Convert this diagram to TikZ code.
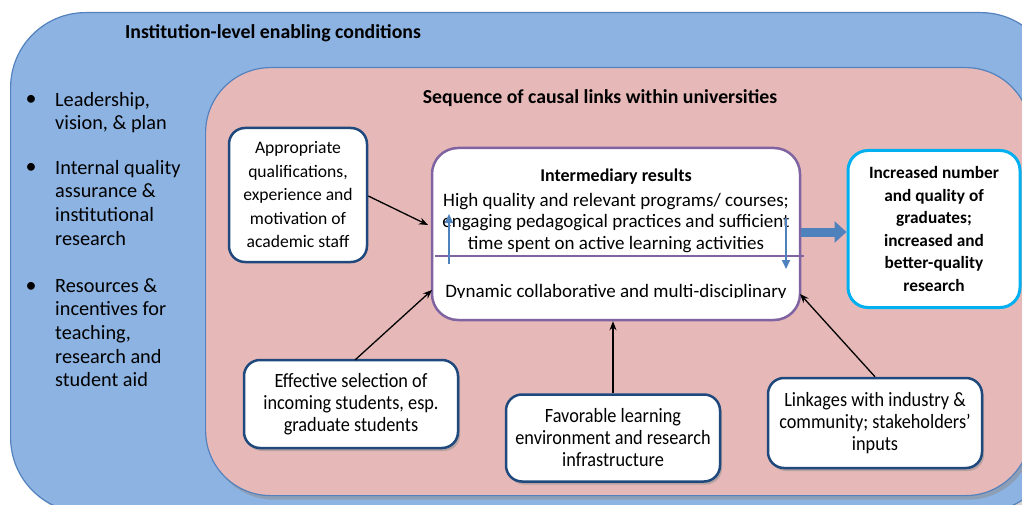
\documentclass[tikz,border=0pt]{standalone}
\usepackage{fontspec}
\setmainfont{Carlito}
\newfontfamily\narrowfont[FakeStretch=0.9]{Carlito}
\usetikzlibrary{arrows.meta,shadows}
\definecolor{outerfill}{RGB}{141,179,226}
\definecolor{outerdraw}{RGB}{84,130,190}
\definecolor{pinkfill}{RGB}{230,185,184}
\definecolor{darkblue}{RGB}{31,73,125}
\definecolor{purpleb}{RGB}{128,100,162}
\definecolor{cyanb}{RGB}{0,176,240}
\definecolor{arrowblue}{RGB}{79,129,189}
\tikzset{
  txt/.style={font=\fontsize{19}{21.6}\selectfont, align=center, inner sep=0pt},
  lst/.style={font=\fontsize{20.3}{23.7}\selectfont, align=left, anchor=north west, inner sep=0pt},
  bul/.style={font=\fontsize{22}{22}\selectfont, anchor=base, inner sep=0pt},
  staffbox/.style={draw=darkblue, line width=2.5pt, fill=white, rounded corners=16pt, align=center, font=\fontsize{17.6}{23.5}\selectfont, inner sep=2pt},
  lowbox/.style={staffbox, drop shadow={shadow xshift=2pt, shadow yshift=-3pt, fill=black!45}, font=\narrowfont\fontsize{20.3}{22}\selectfont},
  centrebox/.style={draw=purpleb, line width=2.5pt, fill=white, rounded corners=26pt},
  outbox/.style={draw=cyanb, line width=3pt, fill=white, rounded corners=20pt, align=center, font=\bfseries\fontsize{17.3}{22.5}\selectfont},
  blk/.style={-{Stealth[length=9pt,width=7pt]}, line width=1.3pt, black},
  smallblue/.style={-{Triangle[length=9pt,width=8pt]}, line width=2pt, arrowblue},
  bigblue/.style={-{Triangle[length=12pt,width=21pt]}, line width=9pt, arrowblue},
  ttl/.style={font=\bfseries\fontsize{19.8}{22}\selectfont},
}
\begin{document}
\begin{tikzpicture}[x=1pt,y=-1pt]
\clip (0,0) rectangle (1022,505);
\fill[white] (0,0) rectangle (1022,505);
% outer blue area
\node[draw=outerdraw, line width=1.2pt, fill=outerfill, rounded corners=75pt,
  minimum width=1045pt, minimum height=500pt, anchor=north west,
  drop shadow={shadow xshift=3pt, shadow yshift=-3pt, fill=black!35}] (outer) at (10,12) {};
\node[ttl] (outertitle) at (273,33) {Institution-level enabling conditions};
% list
\node[bul] (b1) at (31,106) {•};
\node[lst] (l1) at (55,89.4) {\strut Leadership,\\vision, \& plan};
\node[bul] (b2) at (31,174) {•};
\node[lst] (l2) at (55,157.4) {\strut Internal quality\\assurance \&\\institutional\\research};
\node[bul] (b3) at (31,292) {•};
\node[lst] (l3) at (55,275.4) {\strut Resources \&\\incentives for\\teaching,\\research and\\student aid};
% pink area
\node[draw=outerdraw, line width=1.2pt, fill=pinkfill, rounded corners=65pt,
  minimum width=825pt, minimum height=428pt, anchor=north west,
  drop shadow={shadow xshift=3pt, shadow yshift=-4pt, fill=black!45}] (pink) at (205,67) {};
\node[ttl] (pinktitle) at (600,98) {Sequence of causal links within universities};
% boxes
\node[staffbox, minimum width=138pt, minimum height=134pt] (staff) at (298,195)
  {Appropriate\\qualifications,\\experience and\\motivation of\\academic staff};
\node[centrebox, minimum width=368pt, minimum height=172pt] (centre) at (616,234) {};
\node[txt, font=\bfseries\fontsize{18}{22}\selectfont] (ir) at (616,177) {Intermediary results};
\node[txt, anchor=north] (irtext) at (616,190.9) {\strut High quality and relevant programs/ courses;\\engaging pedagogical practices and sufficient\\time spent on active learning activities};
\begin{scope}
\clip (436,272) rectangle (800,297);
\node[txt, anchor=base] (dyn) at (616,297) {Dynamic collaborative and multi-disciplinary};
\end{scope}
\coordinate (divl) at (435,256);
\coordinate (divr) at (804,256);
\draw[purpleb, line width=2.5pt] (divl) -- (divr);
\coordinate (upA) at (449,264);
\coordinate (upB) at (449,214);
\coordinate (dnA) at (786,218);
\coordinate (dnB) at (786,269);
\draw[smallblue] (upA) -- (upB);
\draw[smallblue] (dnA) -- (dnB);
\node[outbox, minimum width=172pt, minimum height=157pt] (out) at (934,229)
  {Increased number\\and quality of\\graduates;\\increased and\\better-quality\\research};
\draw[bigblue] (centre.east |- 0,232) -- (out.west |- 0,232);
\node[lowbox, minimum width=214pt, minimum height=88pt] (sel) at (351,404)
  {Effective selection of\\incoming students, esp.\\graduate students};
\node[lowbox, minimum width=214pt, minimum height=87pt] (env) at (613,438)
  {Favorable learning\\environment and research\\infrastructure};
\node[lowbox, minimum width=214pt, minimum height=90pt] (link) at (875,423)
  {Linkages with industry \&\\community; stakeholders’\\inputs};
% black arrows
\draw[blk] (staff.east |- 0,196) -- (428,225);
\draw[blk] (sel.north |- 0,360) ++(4,0) -- (432,290);
\draw[blk] (env.north) -- (centre.south -| env.north);
\draw[blk] (link.north) -- (800,294);
\end{tikzpicture}
\end{document}
